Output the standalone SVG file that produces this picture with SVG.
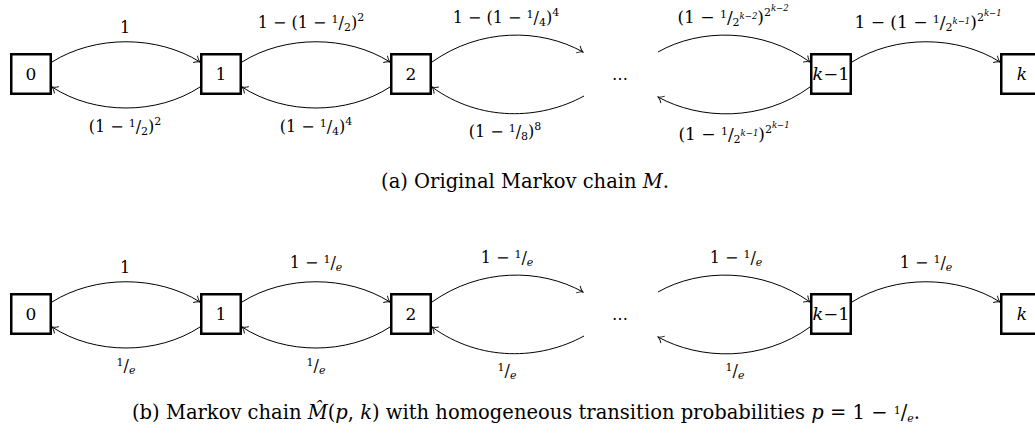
<svg xmlns="http://www.w3.org/2000/svg" width="1035" height="433" viewBox="0 0 1035 433">
<style>
.node rect{fill:#fff;stroke:#000;stroke-width:2.5}
.node text{font-family:"DejaVu Serif","Liberation Serif",serif;font-size:17px;text-anchor:middle}
.edges path{fill:none;stroke:#000;stroke-width:1}
.lbl{font-family:"DejaVu Serif","Liberation Serif",serif;font-size:16px;text-anchor:middle;fill:#000}
.big{font-size:17px}
.cap{font-family:"DejaVu Serif","Liberation Serif",serif;font-size:19.5px;text-anchor:middle;fill:#000}
.s{font-size:11px}
.t{font-size:8.5px;font-style:italic}
.i{font-style:italic}
</style>
<defs>
<marker id="arr" markerUnits="userSpaceOnUse" markerWidth="12" markerHeight="12" refX="0" refY="0" viewBox="-7 -6 8 12" orient="auto" overflow="visible">
<path d="M -5.5 -4 C -3.5 -1.6 -1.2 -0.4 0 0 C -1.2 0.4 -3.5 1.6 -5.5 4" fill="none" stroke="#000" stroke-width="0.9"/>
</marker>
</defs>

<!-- (a) -->
<g id="a-n0" class="node"><rect x="11.25" y="54.25" width="39.5" height="39.5"/><text x="31" y="80">0</text></g>
<g id="a-n1" class="node"><rect x="201.25" y="54.25" width="39.5" height="39.5"/><text x="221" y="80">1</text></g>
<g id="a-n2" class="node"><rect x="391.25" y="54.25" width="39.5" height="39.5"/><text x="411" y="80">2</text></g>
<g id="a-nk1" class="node"><rect x="811.25" y="54.25" width="39.5" height="39.5"/><text x="831" y="80" textLength="37" lengthAdjust="spacingAndGlyphs"><tspan class="i">k</tspan>−1</text></g>
<g id="a-nk" class="node"><rect x="1001.25" y="54.25" width="39.5" height="39.5"/><text x="1022" y="80" class="i">k</text></g>
<text class="lbl" x="620" y="80">…</text>

<g id="a-edges" class="edges">
<path d="M 52 62 C 95 35 157 35 200 62" marker-end="url(#arr)"/>
<path d="M 200 87 C 157 115 95 115 52 87" marker-end="url(#arr)"/>
<path d="M 242 62 C 285 35 347 35 390 62" marker-end="url(#arr)"/>
<path d="M 390 87 C 347 115 285 115 242 87" marker-end="url(#arr)"/>
<path d="M 432 62 C 480 28 540 28 583 52" marker-end="url(#arr)"/>
<path d="M 584 96 C 540 120 480 122 432 87" marker-end="url(#arr)"/>
<path d="M 658 52 C 700 28 762 28 810 62" marker-end="url(#arr)"/>
<path d="M 810 87 C 762 122 700 120 658 97" marker-end="url(#arr)"/>
<path d="M 852 62 C 895 35 957 35 1000 62" marker-end="url(#arr)"/>
</g>

<g id="a-labels">
<text class="lbl" x="125" y="33">1</text>
<text class="lbl" x="125" y="132">(1 − <tspan class="s" dy="-5">1</tspan><tspan dy="5">/</tspan><tspan class="s" dy="3">2</tspan><tspan dy="-3">)</tspan><tspan class="s" dy="-7">2</tspan></text>
<text class="lbl" x="311" y="28">1 − (1 − <tspan class="s" dy="-5">1</tspan><tspan dy="5">/</tspan><tspan class="s" dy="3">2</tspan><tspan dy="-3">)</tspan><tspan class="s" dy="-7">2</tspan></text>
<text class="lbl" x="316" y="132">(1 − <tspan class="s" dy="-5">1</tspan><tspan dy="5">/</tspan><tspan class="s" dy="3">4</tspan><tspan dy="-3">)</tspan><tspan class="s" dy="-7">4</tspan></text>
<text class="lbl" x="506" y="23">1 − (1 − <tspan class="s" dy="-5">1</tspan><tspan dy="5">/</tspan><tspan class="s" dy="3">4</tspan><tspan dy="-3">)</tspan><tspan class="s" dy="-7">4</tspan></text>
<text class="lbl" x="505" y="137">(1 − <tspan class="s" dy="-5">1</tspan><tspan dy="5">/</tspan><tspan class="s" dy="3">8</tspan><tspan dy="-3">)</tspan><tspan class="s" dy="-7">8</tspan></text>
<text class="lbl big" x="733" y="23">(1 − <tspan class="s" dy="-5">1</tspan><tspan dy="5">/</tspan><tspan class="s" dy="3">2</tspan><tspan class="t" dy="-7">k−2</tspan><tspan dy="4">)</tspan><tspan class="s" dy="-7">2</tspan><tspan class="t" dy="-5">k−2</tspan></text>
<text class="lbl big" x="734" y="140">(1 − <tspan class="s" dy="-5">1</tspan><tspan dy="5">/</tspan><tspan class="s" dy="3">2</tspan><tspan class="t" dy="-7">k−1</tspan><tspan dy="4">)</tspan><tspan class="s" dy="-7">2</tspan><tspan class="t" dy="-5">k−1</tspan></text>
<text class="lbl big" x="928" y="28">1 − (1 − <tspan class="s" dy="-5">1</tspan><tspan dy="5">/</tspan><tspan class="s" dy="3">2</tspan><tspan class="t" dy="-7">k−1</tspan><tspan dy="4">)</tspan><tspan class="s" dy="-7">2</tspan><tspan class="t" dy="-5">k−1</tspan></text>
</g>
<text class="cap" x="525" y="188">(a) Original Markov chain <tspan class="i">M</tspan>.</text>

<!-- (b) -->
<g id="b-n0" class="node"><rect x="11.25" y="294.25" width="39.5" height="39.5"/><text x="31" y="320">0</text></g>
<g id="b-n1" class="node"><rect x="201.25" y="294.25" width="39.5" height="39.5"/><text x="221" y="320">1</text></g>
<g id="b-n2" class="node"><rect x="391.25" y="294.25" width="39.5" height="39.5"/><text x="411" y="320">2</text></g>
<g id="b-nk1" class="node"><rect x="811.25" y="294.25" width="39.5" height="39.5"/><text x="831" y="320" textLength="37" lengthAdjust="spacingAndGlyphs"><tspan class="i">k</tspan>−1</text></g>
<g id="b-nk" class="node"><rect x="1001.25" y="294.25" width="39.5" height="39.5"/><text x="1022" y="320" class="i">k</text></g>
<text class="lbl" x="620" y="320">…</text>

<g id="b-edges" class="edges">
<path d="M 52 302 C 95 275 157 275 200 302" marker-end="url(#arr)"/>
<path d="M 200 327 C 157 355 95 355 52 327" marker-end="url(#arr)"/>
<path d="M 242 302 C 285 275 347 275 390 302" marker-end="url(#arr)"/>
<path d="M 390 327 C 347 355 285 355 242 327" marker-end="url(#arr)"/>
<path d="M 432 302 C 480 268 540 268 583 292" marker-end="url(#arr)"/>
<path d="M 584 336 C 540 360 480 362 432 327" marker-end="url(#arr)"/>
<path d="M 658 292 C 700 268 762 268 810 302" marker-end="url(#arr)"/>
<path d="M 810 327 C 762 362 700 360 658 337" marker-end="url(#arr)"/>
<path d="M 852 302 C 895 275 957 275 1000 302" marker-end="url(#arr)"/>
</g>

<g id="b-labels">
<text class="lbl" x="125" y="273">1</text>
<text class="lbl" x="126" y="371"><tspan class="s" dy="-5">1</tspan><tspan dy="5">/</tspan><tspan class="s i" dy="3">e</tspan></text>
<text class="lbl" x="316" y="268">1 − <tspan class="s" dy="-5">1</tspan><tspan dy="5">/</tspan><tspan class="s i" dy="3">e</tspan></text>
<text class="lbl" x="316" y="371"><tspan class="s" dy="-5">1</tspan><tspan dy="5">/</tspan><tspan class="s i" dy="3">e</tspan></text>
<text class="lbl" x="507" y="263">1 − <tspan class="s" dy="-5">1</tspan><tspan dy="5">/</tspan><tspan class="s i" dy="3">e</tspan></text>
<text class="lbl" x="507" y="376"><tspan class="s" dy="-5">1</tspan><tspan dy="5">/</tspan><tspan class="s i" dy="3">e</tspan></text>
<text class="lbl" x="736" y="263">1 − <tspan class="s" dy="-5">1</tspan><tspan dy="5">/</tspan><tspan class="s i" dy="3">e</tspan></text>
<text class="lbl" x="735" y="376"><tspan class="s" dy="-5">1</tspan><tspan dy="5">/</tspan><tspan class="s i" dy="3">e</tspan></text>
<text class="lbl" x="926" y="268">1 − <tspan class="s" dy="-5">1</tspan><tspan dy="5">/</tspan><tspan class="s i" dy="3">e</tspan></text>
</g>
<text class="cap" x="526" y="419">(b) Markov chain <tspan class="i">M̂</tspan>(<tspan class="i">p</tspan>, <tspan class="i">k</tspan>) with homogeneous transition probabilities <tspan class="i">p</tspan> = 1 − <tspan class="s" dy="-5">1</tspan><tspan dy="5">/</tspan><tspan class="s i" dy="3">e</tspan><tspan dy="-3">.</tspan></text>
</svg>
